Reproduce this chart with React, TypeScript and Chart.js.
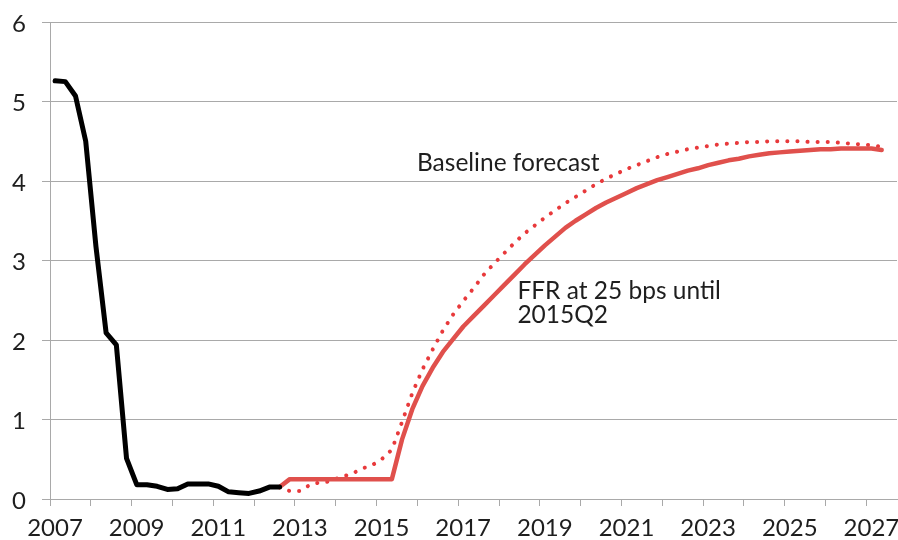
import React, { useEffect, useRef } from "react";
import { Chart, registerables } from "chart.js";

Chart.register(...registerables);

// ---- data (quarterly, first quarter = 2007Q1) ----
const START_YEAR = 2007;
const X_MIN = 2007;
const X_MAX = 2027.75;
const Y_MIN = 0;
const Y_MAX = 6;

// Effective federal funds rate, 2007Q1 .. 2012Q3
const historicalFFR = [
  5.26, 5.25, 5.07, 4.5, 3.18, 2.09, 1.94, 0.51, 0.18, 0.18, 0.16, 0.12, 0.13,
  0.19, 0.19, 0.19, 0.16, 0.09, 0.08, 0.07, 0.1, 0.15, 0.15,
];

// Both forecasts start at quarter index 22 (2012Q3)
const FORECAST_START_INDEX = 22;

// "FFR at 25 bps until 2015Q2" path, 2012Q3 .. 2027Q2
const constantRatePath = [
  0.15, 0.25, 0.25, 0.25, 0.25, 0.25, 0.25, 0.25, 0.25, 0.25, 0.25, 0.25,
  0.75, 1.13,
  1.42, 1.65, 1.85, 2.01,
  2.17, 2.3, 2.43, 2.56,
  2.69, 2.82, 2.95, 3.07,
  3.19, 3.3, 3.41, 3.5,
  3.58, 3.66, 3.73, 3.79,
  3.85, 3.91, 3.96, 4.01,
  4.05, 4.09, 4.13, 4.16,
  4.2, 4.23, 4.26, 4.28,
  4.31, 4.33, 4.35, 4.36,
  4.37, 4.38, 4.39, 4.4,
  4.4, 4.41, 4.41, 4.41,
  4.41, 4.39,
];

// Baseline forecast, 2012Q3 .. 2027Q2
const baselineForecast = [
  0.15, 0.1, 0.1, 0.18, 0.21, 0.22, 0.28, 0.31, 0.38, 0.42, 0.5, 0.62,
  0.97, 1.33,
  1.63, 1.88, 2.12, 2.32,
  2.49, 2.65, 2.82, 2.96,
  3.09, 3.22, 3.34, 3.44,
  3.54, 3.63, 3.72, 3.8,
  3.88, 3.96, 4.03, 4.09,
  4.15, 4.2, 4.25, 4.3,
  4.34, 4.37, 4.4, 4.42,
  4.44, 4.46, 4.47, 4.48,
  4.49, 4.49, 4.5, 4.5,
  4.5, 4.5, 4.49, 4.49,
  4.49, 4.48, 4.47, 4.46,
  4.45, 4.43,
];

// Text annotations anchored in data units (year, value at text baseline)
const annotationTexts = ["Baseline forecast", "FFR at 25 bps until", "2015Q2"];
const annotationYears = [2015.99, 2018.45, 2018.45];
const annotationValues = [4.126, 2.52, 2.22];

// ---- style ----
const FONT_FAMILY = "Lato, 'Open Sans', sans-serif";
const FONT_SIZE = 24;
const ANNOTATION_FONT_SIZE = 24.5;
const TEXT_COLOR = "#1e1e1e";
const GRID_COLOR = "#a9a9a9";
const BLACK = "#000000";
const RED_SOLID = "#e0504c";
const RED_DOTTED = "#e8393b";

function toPoints(values: number[], startIndex: number) {
  return values.map((v, k) => ({
    x: START_YEAR + 0.125 + (startIndex + k) * 0.25,
    y: v,
  }));
}

const annotationPlugin = {
  id: "textAnnotations",
  afterDatasetsDraw(chart: any) {
    const { ctx, scales } = chart;
    const xs = scales.x;
    const ys = scales.y;
    ctx.save();
    ctx.font = `${ANNOTATION_FONT_SIZE}px ${FONT_FAMILY}`;
    ctx.fillStyle = TEXT_COLOR;
    ctx.textAlign = "left";
    ctx.textBaseline = "alphabetic";
    annotationTexts.forEach((t, i) => {
      ctx.fillText(
        t,
        xs.getPixelForValue(annotationYears[i]),
        ys.getPixelForValue(annotationValues[i])
      );
    });
    ctx.restore();
  },
};

export default function App() {
  const canvasRef = useRef<HTMLCanvasElement | null>(null);

  useEffect(() => {
    let chart: Chart | null = null;
    let cancelled = false;

    const build = () => {
      if (cancelled || !canvasRef.current) return;
      const font = { family: FONT_FAMILY, size: FONT_SIZE };
      chart = new Chart(canvasRef.current, {
        type: "line",
        data: {
          datasets: [
            {
              label: "Federal funds rate",
              data: toPoints(historicalFFR, 0),
              borderColor: BLACK,
              borderWidth: 5,
              borderJoinStyle: "round",
              borderCapStyle: "round",
              pointRadius: 0,
              tension: 0,
            },
            {
              label: "FFR at 25 bps until 2015Q2",
              data: toPoints(constantRatePath, FORECAST_START_INDEX),
              borderColor: RED_SOLID,
              borderWidth: 4.5,
              borderJoinStyle: "round",
              borderCapStyle: "round",
              pointRadius: 0,
              tension: 0,
            },
            {
              label: "Baseline forecast",
              data: toPoints(baselineForecast, FORECAST_START_INDEX),
              borderColor: RED_DOTTED,
              borderWidth: 4,
              borderDash: [0.1, 10],
              borderCapStyle: "round",
              pointRadius: 0,
              tension: 0,
            },
          ],
        },
        options: {
          responsive: false,
          animation: false,
          devicePixelRatio: 1,
          parsing: false as any,
          layout: { padding: { top: 22, right: 1, bottom: 0, left: 0 } },
          plugins: {
            legend: { display: false },
            tooltip: { enabled: false },
          },
          scales: {
            x: {
              type: "linear",
              min: X_MIN,
              max: X_MAX,
              border: { display: true, color: GRID_COLOR, width: 1 },
              grid: {
                drawOnChartArea: false,
                drawTicks: true,
                tickLength: 7,
                color: GRID_COLOR,
              },
              ticks: {
                stepSize: 1,
                includeBounds: false,
                autoSkip: false,
                maxRotation: 0,
                minRotation: 0,
                labelOffset: 5,
                padding: 8,
                color: TEXT_COLOR,
                font,
                callback: (v: any) => {
                  const yr = Math.round(Number(v));
                  return (yr - START_YEAR) % 2 === 0 ? String(yr) : "";
                },
              },
              afterFit: (s: any) => {
                s.height = 41;
                s.paddingLeft = 0;
                s.paddingRight = 0;
              },
            },
            y: {
              min: Y_MIN,
              max: Y_MAX,
              border: { display: true, color: GRID_COLOR, width: 1 },
              grid: {
                color: GRID_COLOR,
                drawTicks: true,
                tickLength: 8,
              },
              ticks: {
                stepSize: 1,
                padding: 16,
                labelOffset: 2,
                color: TEXT_COLOR,
                font,
              },
              afterFit: (s: any) => {
                s.width = 50;
                s.paddingTop = 0;
                s.paddingBottom = 0;
              },
            },
          },
        },
        plugins: [annotationPlugin],
      } as any);
    };

    const fontsApi = (document as any).fonts;
    if (fontsApi && fontsApi.load) {
      fontsApi
        .load(`${FONT_SIZE}px Lato`)
        .then(build, build);
    } else {
      build();
    }

    return () => {
      cancelled = true;
      if (chart) chart.destroy();
    };
  }, []);

  return (
    <div
      style={{
        position: "fixed",
        left: 0,
        top: 0,
        width: 898,
        height: 540,
        background: "#ffffff",
      }}
    >
      <canvas ref={canvasRef} width={898} height={540} />
    </div>
  );
}
